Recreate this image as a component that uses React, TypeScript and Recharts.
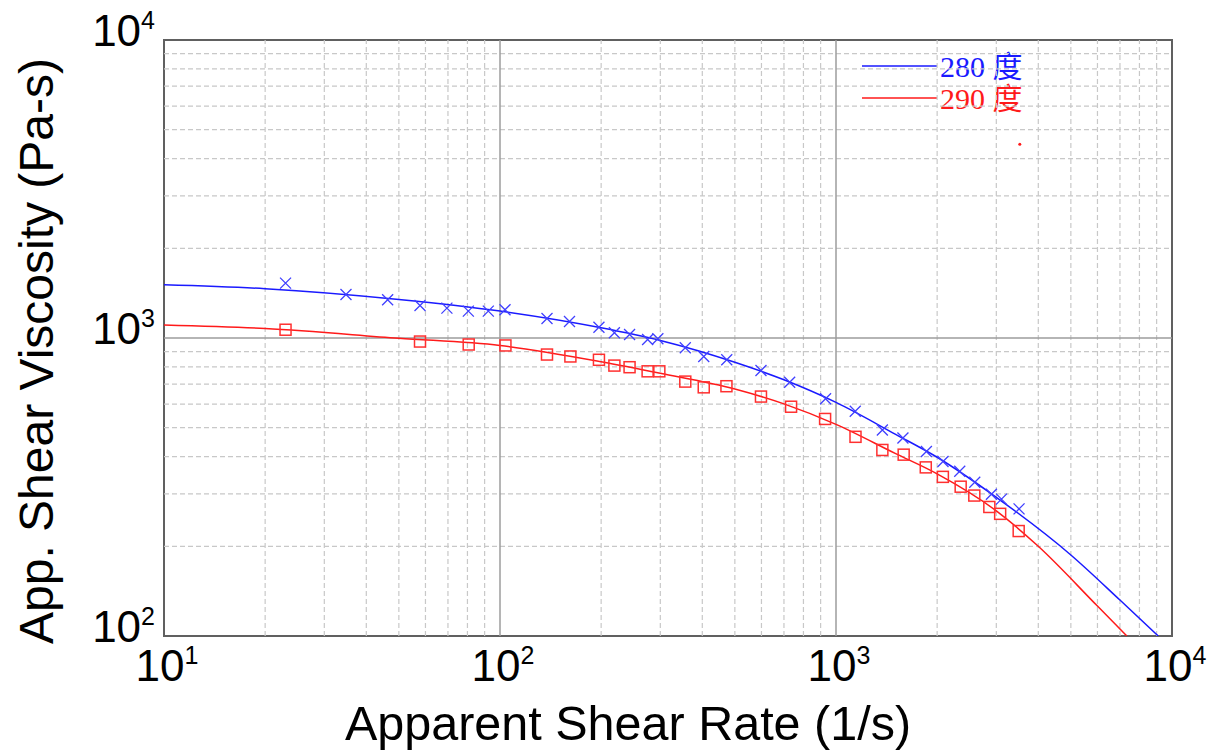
import React from "react";
import {
  ComposedChart,
  Line,
  Scatter,
  XAxis,
  YAxis,
  ReferenceLine,
  ReferenceArea,
  ReferenceDot,
} from "recharts";

// measured points, 280 C
const blueRate = [
  23.0, 34.8, 46.3, 57.8, 69.5, 80.5, 92.3, 103.5, 138, 161, 197, 219, 243,
  275, 295, 356, 404, 473, 598, 728, 931, 1141, 1374, 1582, 1858, 2082, 2335,
  2588, 2901, 3108, 3506,
];
const blueVisc = [
  1528, 1400, 1344, 1286, 1260, 1231, 1231, 1244, 1163, 1136, 1087, 1041, 1028,
  988, 994, 927, 867, 845, 778, 710, 625, 568, 491, 462, 416, 385, 357, 328,
  299, 288, 267,
];

// measured points, 290 C
const redRate = [
  23.0, 57.8, 80.7, 103.8, 138, 162, 197, 219, 243, 275, 298, 356, 404, 472,
  598, 735, 928, 1143, 1374, 1590, 1850, 2080, 2350, 2580, 2860, 3080, 3497,
];
const redVisc = [
  1066, 973, 951, 944, 880, 867, 845, 808, 798, 773, 773, 714, 683, 689, 636,
  588, 535, 466, 421, 406, 368, 342, 317, 296, 271, 257, 225,
];

// fitted curves
const blueFitRate = [10, 20, 50, 100, 200, 300, 500, 700, 1000, 1500, 2000, 3000, 5000, 7000, 9100];
const blueFitVisc = [1509, 1464, 1347, 1231, 1082, 981, 829, 724, 608, 476, 398, 292, 187, 132, 100];
const redFitRate = [10, 20, 50, 100, 200, 300, 500, 700, 1000, 1500, 2000, 3000, 4000, 6000, 7340];
const redFitVisc = [1106, 1076, 998, 944, 832, 761, 674, 601, 513, 410, 350, 263, 200, 126, 100];

const xTicks = [10, 100, 1000, 10000];
const yTicks = [100, 1000, 10000];
const xMajor = [100, 1000];
const xMinor = [
  20, 30, 40, 50, 60, 70, 80, 90, 200, 300, 400, 500, 600, 700, 800, 900,
  2000, 3000, 4000, 5000, 6000, 7000, 8000, 9000,
];
const yMajor = [1000];
const yMinor = [
  200, 300, 400, 500, 600, 700, 800, 900, 2000, 3000, 4000, 5000, 6000, 7000,
  8000, 9000,
];

const legendNames = ["280 度", "290 度"];

const BLUE = "#1a1aff";
const RED = "#ff1a1a";
const SANS = "'Liberation Sans', Arial, sans-serif";
const SERIF = "'Liberation Serif', 'Times New Roman', 'Noto Sans CJK TC', serif";

const zip = (r: number[], v: number[]) => r.map((x, i) => ({ r: x, v: v[i] }));
const bluePts = zip(blueRate, blueVisc);
const redPts = zip(redRate, redVisc);
const blueFit = zip(blueFitRate, blueFitVisc);
const redFit = zip(redFitRate, redFitVisc);

const Cross = (props: any) => {
  const { cx, cy } = props;
  const s = 5.5;
  return (
    <path
      d={`M${cx - s},${cy - s}L${cx + s},${cy + s}M${cx - s},${cy + s}L${cx + s},${cy - s}`}
      stroke="#4040ff"
      strokeWidth={1.3}
      fill="none"
    />
  );
};

const Square = (props: any) => {
  const { cx, cy } = props;
  const s = 5.5;
  return (
    <rect
      x={cx - s}
      y={cy - s}
      width={2 * s}
      height={2 * s}
      stroke="#ff3030"
      strokeWidth={1.5}
      fill="none"
    />
  );
};

const XTick = ({ x, y, payload }: any) => {
  const e = Math.round(Math.log10(payload.value));
  return (
    <text x={x + 3} y={y + 37} textAnchor="middle" fontFamily={SANS} fontSize={44} fill="#000">
      <tspan>10</tspan>
      <tspan dy={-17} fontSize={25}>{e}</tspan>
    </text>
  );
};

const YTick = ({ x, y, payload }: any) => {
  const e = Math.round(Math.log10(payload.value));
  return (
    <text x={x - 1} y={y + 6} textAnchor="end" fontFamily={SANS} fontSize={44} fill="#000">
      <tspan>10</tspan>
      <tspan dy={-17} fontSize={25}>{e}</tspan>
    </text>
  );
};

const LegendBox = () => (
  <g>
    {legendNames.map((name, i) => {
      const c = i === 0 ? BLUE : RED;
      const y = 66 + i * 32;
      return (
        <g key={name}>
          <line x1={862} x2={937} y1={y} y2={y} stroke={c} strokeWidth={1.5} />
          <text x={940} y={y + 11} fill={c} fontFamily={SERIF} fontSize={30}>
            {name}
          </text>
        </g>
      );
    })}
  </g>
);

export default function App() {
  return (
    <div style={{ position: "absolute", left: 0, top: 0, background: "#fff" }}>
      <ComposedChart
        width={1223}
        height={753}
        margin={{ top: 40, right: 51, bottom: 0, left: 0 }}
      >
        <XAxis
          dataKey="r"
          type="number"
          scale="log"
          domain={[10, 10000]}
          ticks={xTicks}
          interval={0}
          height={117}
          axisLine={false}
          tickLine={false}
          tick={<XTick />}
          allowDataOverflow
          label={{
            content: () => (
              <text x={628} y={740} textAnchor="middle" fontFamily={SANS} fontSize={48.5} fill="#000">
                Apparent Shear Rate (1/s)
              </text>
            ),
          }}
        />
        <YAxis
          dataKey="v"
          type="number"
          scale="log"
          domain={[100, 10000]}
          ticks={yTicks}
          interval={0}
          width={164}
          axisLine={false}
          tickLine={false}
          tick={<YTick />}
          allowDataOverflow
          label={{
            content: () => (
              <text
                x={36}
                y={351}
                transform="rotate(-90 36 351)"
                textAnchor="middle"
                dominantBaseline="central"
                fontFamily={SANS}
                fontSize={48}
                fill="#000"
              >
                App. Shear Viscosity (Pa-s)
              </text>
            ),
          }}
        />
        {xMinor.map((v) => (
          <ReferenceLine key={"xm" + v} x={v} stroke="#c8c8c8" strokeWidth={1.2} strokeDasharray="5 3" />
        ))}
        {yMinor.map((v) => (
          <ReferenceLine key={"ym" + v} y={v} stroke="#c8c8c8" strokeWidth={1.2} strokeDasharray="5 3" />
        ))}
        {xMajor.map((v) => (
          <ReferenceLine key={"xM" + v} x={v} stroke="#9c9c9c" strokeWidth={1.5} />
        ))}
        {yMajor.map((v) => (
          <ReferenceLine key={"yM" + v} y={v} stroke="#9c9c9c" strokeWidth={1.5} />
        ))}
        <ReferenceArea
          x1={10}
          x2={10000}
          y1={100}
          y2={10000}
          fill="none"
          stroke="#606060"
          strokeWidth={2}
          ifOverflow="visible"
        />
        <Line
          data={blueFit}
          dataKey="v"
          type="monotone"
          stroke={BLUE}
          strokeWidth={1.5}
          dot={false}
          isAnimationActive={false}
        />
        <Line
          data={redFit}
          dataKey="v"
          type="monotone"
          stroke={RED}
          strokeWidth={1.5}
          dot={false}
          isAnimationActive={false}
        />
        <Scatter data={bluePts} dataKey="v" shape={<Cross />} isAnimationActive={false} />
        <Scatter data={redPts} dataKey="v" shape={<Square />} isAnimationActive={false} />
        <ReferenceDot x={3524} y={4467} r={1.5} fill={RED} stroke="none" />
        <LegendBox />
      </ComposedChart>
    </div>
  );
}
